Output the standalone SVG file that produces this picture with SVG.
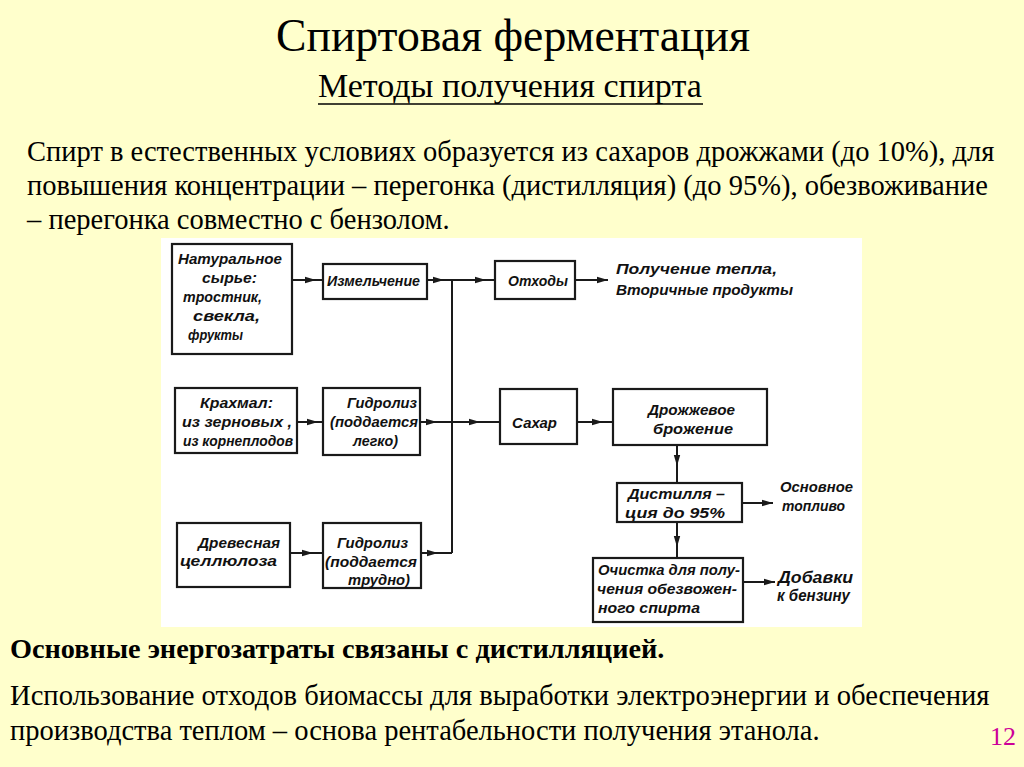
<svg xmlns="http://www.w3.org/2000/svg" width="1024" height="767" viewBox="0 0 1024 767">
<defs>
<marker id="ah" markerWidth="12" markerHeight="8" refX="11" refY="4" orient="auto" markerUnits="userSpaceOnUse">
<path d="M0,0.8 L11,4 L0,7.2 Z" fill="#1a1a1a"/>
</marker>
</defs>
<rect x="0" y="0" width="1024" height="767" fill="#FFFFCC"/>

<g id="title" fill="#000" font-family="Liberation Serif, DejaVu Serif, serif">
<text x="276" y="51" font-size="45.7">Спиртовая ферментация</text>
<text x="318" y="97" font-size="34">Методы получения спирта</text>
<line x1="318" y1="104" x2="703" y2="104" stroke="#000" stroke-width="1.5"/>
</g>
<g id="intro" fill="#000" font-family="Liberation Serif, DejaVu Serif, serif" font-size="28.5">
<text x="27" y="161">Спирт в естественных условиях образуется из сахаров дрожжами (до 10%), для</text>
<text x="27" y="195">повышения концентрации – перегонка (дистилляция) (до 95%), обезвоживание</text>
<text x="27" y="229">– перегонка совместно с бензолом.</text>
</g>

<rect x="161" y="238" width="701" height="389" fill="#FFFFFF"/>

<g id="connectors" fill="none" stroke="#1a1a1a" stroke-width="2">
<path d="M292,280 L316,280 L323,280" marker-mid="url(#ah)"/>
<path d="M427,280 L444,280 L452,280" marker-mid="url(#ah)"/>
<path d="M452,280 L486,280 L495,280" marker-mid="url(#ah)"/>
<path d="M575,280 L608,280" marker-end="url(#ah)"/>
<path d="M452,280 L452,553"/>
<path d="M297,422 L318,422 L323,422" marker-mid="url(#ah)"/>
<path d="M420,422 L437,422 L480,422 L500,422" marker-mid="url(#ah)"/>
<path d="M577,422 L603,422 L613,422" marker-mid="url(#ah)"/>
<path d="M677,445 L677,466 L677,483" marker-mid="url(#ah)"/>
<path d="M742,503 L773,503" marker-end="url(#ah)"/>
<path d="M677,522 L677,547 L677,558" marker-mid="url(#ah)"/>
<path d="M743,582 L775,582" marker-end="url(#ah)"/>
<path d="M290,553 L313,553 L323,553" marker-mid="url(#ah)"/>
<path d="M421,553 L438,553 L452,553" marker-mid="url(#ah)"/>
</g>

<g id="nodes" font-family="Liberation Sans, Arial, sans-serif" font-style="italic" font-weight="bold" font-size="15" fill="#111">
<g id="n-raw">
<rect x="172" y="244" width="120" height="110" fill="none" stroke="#1a1a1a" stroke-width="2.2"/>
<text x="178" y="264" textLength="104" lengthAdjust="spacingAndGlyphs">Натуральное</text>
<text x="202" y="283" textLength="55" lengthAdjust="spacingAndGlyphs">сырье:</text>
<text x="183" y="302" textLength="79" lengthAdjust="spacingAndGlyphs">тростник,</text>
<text x="193" y="321" textLength="67" lengthAdjust="spacingAndGlyphs">свекла,</text>
<text x="188" y="340" textLength="55" lengthAdjust="spacingAndGlyphs">фрукты</text>
</g>
<g id="n-grind">
<rect x="323" y="264" width="104" height="35" fill="none" stroke="#1a1a1a" stroke-width="2.2"/>
<text x="327" y="286" textLength="93" lengthAdjust="spacingAndGlyphs">Измельчение</text>
</g>
<g id="n-waste">
<rect x="495" y="261" width="80" height="38" fill="none" stroke="#1a1a1a" stroke-width="2.2"/>
<text x="508" y="286" textLength="60" lengthAdjust="spacingAndGlyphs">Отходы</text>
</g>
<g id="n-heat">
<text x="616" y="274" textLength="161" lengthAdjust="spacingAndGlyphs">Получение тепла,</text>
<text x="616" y="295" textLength="177" lengthAdjust="spacingAndGlyphs">Вторичные продукты</text>
</g>
<g id="n-starch">
<rect x="175" y="388" width="122" height="65" fill="none" stroke="#1a1a1a" stroke-width="2.2"/>
<text x="200" y="408" textLength="73" lengthAdjust="spacingAndGlyphs">Крахмал:</text>
<text x="182" y="427" textLength="110" lengthAdjust="spacingAndGlyphs">из зерновых ,</text>
<text x="183" y="446" textLength="110" lengthAdjust="spacingAndGlyphs">из корнеплодов</text>
</g>
<g id="n-hyd1">
<rect x="323" y="388" width="97" height="67" fill="none" stroke="#1a1a1a" stroke-width="2.2"/>
<text x="347" y="408" textLength="70" lengthAdjust="spacingAndGlyphs">Гидролиз</text>
<text x="330" y="427" textLength="88" lengthAdjust="spacingAndGlyphs">(поддается</text>
<text x="353" y="446" textLength="45" lengthAdjust="spacingAndGlyphs">легко)</text>
</g>
<g id="n-sugar">
<rect x="500" y="389" width="77" height="55" fill="none" stroke="#1a1a1a" stroke-width="2.2"/>
<text x="512" y="428" textLength="45" lengthAdjust="spacingAndGlyphs">Сахар</text>
</g>
<g id="n-ferm">
<rect x="613" y="389" width="154" height="56" fill="none" stroke="#1a1a1a" stroke-width="2.2"/>
<text x="648" y="415" textLength="87" lengthAdjust="spacingAndGlyphs">Дрожжевое</text>
<text x="653" y="434" textLength="80" lengthAdjust="spacingAndGlyphs">брожение</text>
</g>
<g id="n-dist">
<rect x="617" y="483" width="125" height="39" fill="none" stroke="#1a1a1a" stroke-width="2.2"/>
<text x="628" y="499" textLength="97" lengthAdjust="spacingAndGlyphs">Дистилля –</text>
<text x="625" y="518" textLength="100" lengthAdjust="spacingAndGlyphs">ция до 95%</text>
</g>
<g id="n-fuel">
<text x="780" y="492" textLength="73" lengthAdjust="spacingAndGlyphs">Основное</text>
<text x="782" y="511" textLength="63" lengthAdjust="spacingAndGlyphs">топливо</text>
</g>
<g id="n-wood">
<rect x="177" y="523" width="113" height="64" fill="none" stroke="#1a1a1a" stroke-width="2.2"/>
<text x="198" y="548" textLength="82" lengthAdjust="spacingAndGlyphs">Древесная</text>
<text x="180" y="566" textLength="97" lengthAdjust="spacingAndGlyphs">целлюлоза</text>
</g>
<g id="n-hyd2">
<rect x="323" y="523" width="98" height="65" fill="none" stroke="#1a1a1a" stroke-width="2.2"/>
<text x="337" y="548" textLength="71" lengthAdjust="spacingAndGlyphs">Гидролиз</text>
<text x="325" y="567" textLength="92" lengthAdjust="spacingAndGlyphs">(поддается</text>
<text x="348" y="585" textLength="62" lengthAdjust="spacingAndGlyphs">трудно)</text>
</g>
<g id="n-clean">
<rect x="593" y="558" width="150" height="64" fill="none" stroke="#1a1a1a" stroke-width="2.2"/>
<text x="598" y="575" textLength="142" lengthAdjust="spacingAndGlyphs">Очистка для полу-</text>
<text x="597" y="594" textLength="140" lengthAdjust="spacingAndGlyphs">чения обезвожен-</text>
<text x="598" y="613" textLength="102" lengthAdjust="spacingAndGlyphs">ного спирта</text>
</g>
<g id="n-additive">
<text x="778" y="583" font-size="17" textLength="75" lengthAdjust="spacingAndGlyphs">Добавки</text>
<text x="777" y="601" font-size="17" textLength="73" lengthAdjust="spacingAndGlyphs">к бензину</text>
</g>
</g>

<g id="footer" fill="#000" font-family="Liberation Serif, DejaVu Serif, serif">
<text x="10" y="658" font-size="28.3" font-weight="bold">Основные энергозатраты связаны с дистилляцией.</text>
<text x="10" y="705" font-size="28.6">Использование отходов биомассы для выработки электроэнергии и обеспечения</text>
<text x="10" y="740" font-size="28.5">производства теплом – основа рентабельности получения этанола.</text>
<text x="990" y="745" font-size="26" fill="#CC0099">12</text>
</g>
</svg>
